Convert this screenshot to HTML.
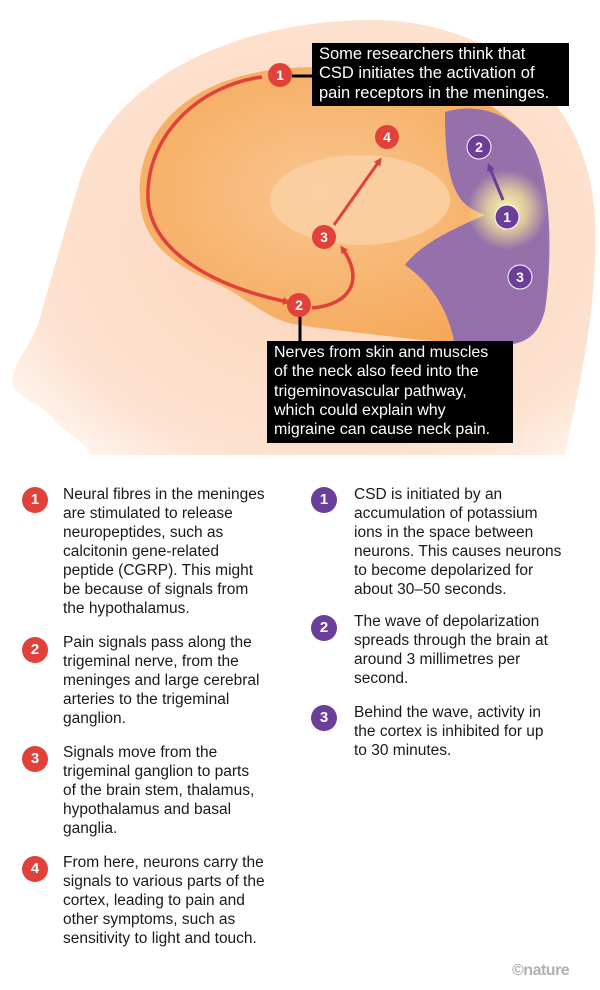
<!DOCTYPE html>
<html><head><meta charset="utf-8"><style>
body{margin:0;background:#fff;}
#w{position:relative;width:600px;height:990px;overflow:hidden;background:#fff;font-family:"Liberation Sans",sans-serif;}
.t{position:absolute;font-size:15.5px;line-height:19px;color:#1a1a1a;}
.b{position:absolute;width:26px;height:26px;border-radius:50%;color:#fff;font:bold 15px "Liberation Sans",sans-serif;text-align:center;line-height:26px;}
.r{background:#e0413a;}.p{background:#6b3f99;}
.box{position:absolute;background:#000;color:#fff;font-family:"Liberation Sans",sans-serif;font-size:16.5px;line-height:19.3px;padding:0 0 0 7px;box-sizing:border-box;}
</style></head><body><div id="w">
<svg width="600" height="460" style="position:absolute;left:0;top:0">
<defs>
<radialGradient id="hg" cx="0.55" cy="0.5" r="0.65"><stop offset="0" stop-color="#fbd3b8"/><stop offset="0.8" stop-color="#fde2d0"/><stop offset="1" stop-color="#fff3ec"/></radialGradient>
<radialGradient id="bg" cx="0.45" cy="0.45" r="0.6"><stop offset="0" stop-color="#f9c68f"/><stop offset="1" stop-color="#f6a85a"/></radialGradient>
<radialGradient id="gl" cx="0.5" cy="0.5" r="0.5"><stop offset="0" stop-color="#fffbb0"/><stop offset="0.5" stop-color="#f9eb9a" stop-opacity="0.7"/><stop offset="1" stop-color="#f9eb9a" stop-opacity="0"/></radialGradient>
<marker id="ar" markerWidth="8" markerHeight="8" refX="5" refY="4" orient="auto" markerUnits="userSpaceOnUse"><path d="M0,0 L8,4 L0,8 z" fill="#e0413a"/></marker>
<marker id="ap" markerWidth="8" markerHeight="8" refX="5" refY="4" orient="auto" markerUnits="userSpaceOnUse"><path d="M0,0 L8,4 L0,8 z" fill="#6b3f99"/></marker>
</defs>
<path d="M90,455 C85,440 60,430 50,415 C40,405 25,400 15,390 C8,380 15,365 25,350 C35,335 40,320 45,300 C55,265 65,230 80,180 C115,70 250,18 380,20 C500,25 590,100 595,220 C598,320 575,400 565,455 Z" fill="url(#hg)"/>
<path d="M140,200 C135,130 190,75 290,68 C390,62 480,85 520,130 C550,170 550,260 545,300 C540,335 520,345 490,345 L420,340 C380,335 330,330 300,325 C270,322 250,300 220,285 C170,265 142,240 140,200 Z" fill="url(#bg)"/>
<path d="M445,112 C485,100 520,120 535,150 C555,195 550,280 545,310 C538,340 520,345 500,345 L455,345 C450,320 440,290 405,265 C420,245 450,230 485,215 C458,205 445,190 445,112 Z" fill="#8c6ab0" opacity="0.92"/>
<ellipse cx="360" cy="200" rx="90" ry="45" fill="#fbd1a6" opacity="0.8"/>
<circle cx="507" cy="210" r="40" fill="url(#gl)"/>
<path d="M262,77 C200,85 145,135 148,200 C152,255 220,288 288,302" fill="none" stroke="#e0413a" stroke-width="3.5" marker-end="url(#ar)"/>
<path d="M312,308 C350,305 365,280 342,248" fill="none" stroke="#e0413a" stroke-width="3.5" marker-end="url(#ar)"/>
<path d="M334,225 L380,160" fill="none" stroke="#e0413a" stroke-width="3" marker-end="url(#ar)"/>
<path d="M503,200 L489,166" fill="none" stroke="#6b3f99" stroke-width="3" marker-end="url(#ap)"/>
<line x1="292" y1="76" x2="313" y2="76" stroke="#000" stroke-width="3"/>
<line x1="300" y1="315" x2="300" y2="342" stroke="#000" stroke-width="3"/>
<g font-family="Liberation Sans,sans-serif" font-weight="bold" font-size="14" fill="#fff" text-anchor="middle">
<circle cx="280" cy="75" r="12" fill="#e0413a"/><text x="280" y="80">1</text>
<circle cx="387" cy="137" r="12" fill="#e0413a"/><text x="387" y="142">4</text>
<circle cx="324" cy="237" r="12" fill="#e0413a"/><text x="324" y="242">3</text>
<circle cx="299" cy="305" r="12" fill="#e0413a"/><text x="299" y="310">2</text>
<circle cx="479" cy="147" r="12" fill="#6b3f99" stroke="#fff" stroke-width="1"/><text x="479" y="152">2</text>
<circle cx="507" cy="217" r="12" fill="#6b3f99" stroke="#fff" stroke-width="1"/><text x="507" y="222">1</text>
<circle cx="520" cy="277" r="12" fill="#6b3f99" stroke="#fff" stroke-width="1"/><text x="520" y="282">3</text>
</g>
</svg>
<div class="box" style="left:312px;top:43px;width:257px;height:63px;padding-top:2px">Some researchers think that<br>CSD initiates the activation of<br>pain receptors in the meninges.</div>
<div class="box" style="left:267px;top:341px;width:246px;height:102px;padding-top:2px;font-size:16px">Nerves from skin and muscles<br>of the neck also feed into the<br>trigeminovascular pathway,<br>which could explain why<br>migraine can cause neck pain.</div>

<div class="b r" style="left:22px;top:487px">1</div>
<div class="t" style="left:63px;top:485px">Neural fibres in the meninges<br>are stimulated to release<br>neuropeptides, such as<br>calcitonin gene-related<br>peptide (CGRP). This might<br>be because of signals from<br>the hypothalamus.</div>
<div class="b r" style="left:22px;top:637px">2</div>
<div class="t" style="left:63px;top:633px">Pain signals pass along the<br>trigeminal nerve, from the<br>meninges and large cerebral<br>arteries to the trigeminal<br>ganglion.</div>
<div class="b r" style="left:22px;top:746px">3</div>
<div class="t" style="left:63px;top:743px">Signals move from the<br>trigeminal ganglion to parts<br>of the brain stem, thalamus,<br>hypothalamus and basal<br>ganglia.</div>
<div class="b r" style="left:22px;top:856px">4</div>
<div class="t" style="left:63px;top:853px">From here, neurons carry the<br>signals to various parts of the<br>cortex, leading to pain and<br>other symptoms, such as<br>sensitivity to light and touch.</div>

<div class="b p" style="left:311px;top:487px">1</div>
<div class="t" style="left:354px;top:485px">CSD is initiated by an<br>accumulation of potassium<br>ions in the space between<br>neurons. This causes neurons<br>to become depolarized for<br>about 30–50 seconds.</div>
<div class="b p" style="left:311px;top:615px">2</div>
<div class="t" style="left:354px;top:612px">The wave of depolarization<br>spreads through the brain at<br>around 3 millimetres per<br>second.</div>
<div class="b p" style="left:311px;top:705px">3</div>
<div class="t" style="left:354px;top:703px">Behind the wave, activity in<br>the cortex is inhibited for up<br>to 30 minutes.</div>
<div style="position:absolute;left:512px;top:962px;font:bold 16px 'Liberation Sans',sans-serif;color:#b0b0b0;letter-spacing:-0.5px">©nature</div>
</div></body></html>
